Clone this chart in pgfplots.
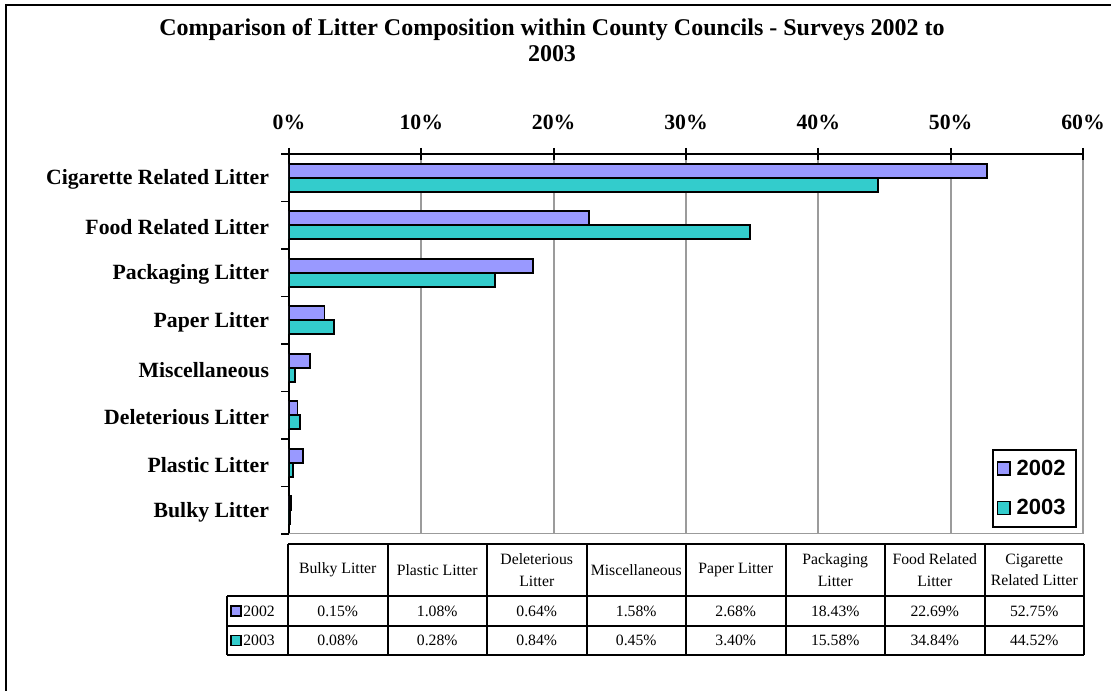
\documentclass[border=0pt]{standalone}
\usepackage{pgfplots}
\pgfplotsset{compat=1.18}
\usepackage{fontspec}
\setmainfont{Liberation Serif}
\newfontfamily\arialfont{Liberation Sans}
\definecolor{cA}{RGB}{153,153,255}
\definecolor{cB}{RGB}{51,204,204}
\definecolor{gridc}{RGB}{155,155,155}
\begin{document}
\begin{tikzpicture}[x=0.75pt,y=0.75pt]
\useasboundingbox (0,0) rectangle (1111,691);
\draw[line width=1.8pt] (6,-10) -- (6,686) -- (1120,686);
\node[font=\bfseries\fontsize{18}{19.5}\selectfont, align=center] at (552,651)
  {Comparison of Litter Composition within County Councils - Surveys 2002 to\\2003};
\begin{axis}[
  at={(216.75pt,117.75pt)}, anchor=south west,
  scale only axis, width=595.5pt, height=285pt,
  xbar, bar width=10.5pt,
  xmin=0, xmax=60, ymin=-0.5, ymax=7.5,
  separate axis lines,
  axis x line*=top, axis y line*=left,
  x axis line style={line width=1.5pt,-},
  y axis line style={line width=1.5pt,-},
  xtick={0,10,...,60},
  xticklabel={\pgfmathprintnumber{\tick}\%},
  xtick align=center, major tick length=9pt,
  major x tick style={line width=1.3pt,black},
  xmajorgrids, major x grid style={gridc, line width=1.4pt},
  ytick={0,...,7},
  yticklabels={Bulky Litter, Plastic Litter, Deleterious Litter, Miscellaneous, Paper Litter, Packaging Litter, Food Related Litter, Cigarette Related Litter},
  major y tick style={draw=none},
  minor ytick={-0.5,0.5,...,7.5},
  minor tick length=6pt, ytick align=outside,
  minor y tick style={line width=1.3pt,black},
  /pgf/number format/assume math mode=true,
  tick label style={font=\bfseries\fontsize{16.3}{19}\selectfont},
  yticklabel style={xshift=-2.5pt, yshift=-1.5pt},
  xticklabel style={yshift=10pt},
  legend image code/.code={\draw[#1,line width=1pt] (6pt,-4.8pt) rectangle (15.6pt,4.8pt);},
  legend style={at={(0.992,0.016)}, anchor=south east, draw=black, line width=1.5pt,
    font=\arialfont\bfseries\fontsize{16.5}{18}\selectfont, row sep=12.5pt,
    inner xsep=3pt, inner ysep=5.75pt, cells={anchor=west},
    nodes={inner xsep=4.5pt}},
]
\draw[gridc, line width=1.3pt] (axis cs:0,-0.5) -- (axis cs:60,-0.5);
\addplot[fill=cA, draw=black, line width=1.4pt, bar shift=5.25pt] coordinates {
 (0.15,0) (1.08,1) (0.64,2) (1.58,3) (2.68,4) (18.43,5) (22.69,6) (52.75,7)};
\addplot[fill=cB, draw=black, line width=1.4pt, bar shift=-5.25pt] coordinates {
 (0.08,0) (0.28,1) (0.84,2) (0.45,3) (3.40,4) (15.58,5) (34.84,6) (44.52,7)};
\legend{2002,2003}
\end{axis}
% data table
\begin{scope}[line width=1.5pt]
\draw (288,147) -- (1084,147);
\draw (227,95) -- (1084,95);
\draw (227,65) -- (1084,65);
\draw (227,36) -- (1084,36);
\foreach \xx in {288,387.5,487,586.5,686,785.5,885,984.5,1084} \draw (\xx,147) -- (\xx,36);
\draw (227,95) -- (227,36);
\end{scope}
\begin{scope}[every node/.style={font=\fontsize{11.8}{16}\selectfont, align=center, inner sep=0pt}]
\node at (337.75,121) {Bulky Litter};
\node at (437.25,121) {Plastic Litter};
\node at (536.75,121) {Deleterious\\Litter};
\node at (636.25,121) {Miscellaneous};
\node at (735.75,121) {Paper Litter};
\node at (835.25,121) {Packaging\\Litter};
\node at (934.75,121) {Food Related\\Litter};
\node at (1034.25,121) {Cigarette\\Related Litter};
\foreach \v [count=\i from 0] in {0.15\%,1.08\%,0.64\%,1.58\%,2.68\%,18.43\%,22.69\%,52.75\%}
  \node at (337.75+99.5*\i,80) {\v};
\foreach \v [count=\i from 0] in {0.08\%,0.28\%,0.84\%,0.45\%,3.40\%,15.58\%,34.84\%,44.52\%}
  \node at (337.75+99.5*\i,50.5) {\v};
\node[anchor=west] at (243,80) {2002};
\node[anchor=west] at (243,50.5) {2003};
\end{scope}
\draw[fill=cA, line width=0.8pt] (231,75) rectangle (241,85);
\draw[fill=cB, line width=0.8pt] (231,45.5) rectangle (241,55.5);
\end{tikzpicture}
\end{document}
